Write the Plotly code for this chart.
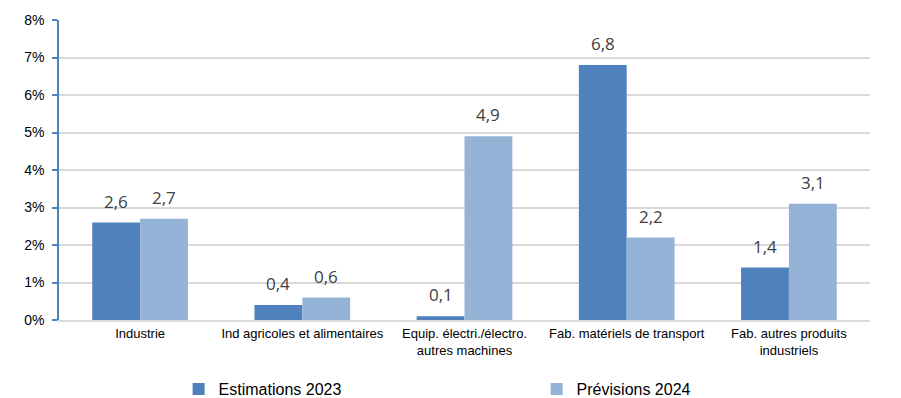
import plotly.graph_objects as go

categories = [
    "Industrie",
    "Ind agricoles et alimentaires",
    "Equip. électri./électro.<br>autres machines",
    "Fab. matériels de transport",
    "Fab. autres produits<br>industriels",
]
estimations_2023 = [2.6, 0.4, 0.1, 6.8, 1.4]
previsions_2024 = [2.7, 0.6, 4.9, 2.2, 3.1]
y_ticks = [0, 1, 2, 3, 4, 5, 6, 7, 8]
y_tick_labels = [f"{t}%" for t in y_ticks]

DARK = "#4f81bd"
LIGHT = "#95b3d7"
BARGAP = 0.41

positions = list(range(len(categories)))

fig = go.Figure()
fig.add_trace(go.Bar(x=positions, y=estimations_2023, name="Estimations 2023",
                     marker=dict(color=DARK, line=dict(width=0))))
fig.add_trace(go.Bar(x=positions, y=previsions_2024, name="Prévisions 2024",
                     marker=dict(color=LIGHT, line=dict(width=0))))

# value labels above each bar, centred on the bar within its group
half = (1 - BARGAP) / 4
annotations = []
for series, shift in ((estimations_2023, -half), (previsions_2024, half)):
    for i, v in enumerate(series):
        annotations.append(dict(
            x=i + shift, y=v, xref="x", yref="y",
            text=f"{v:.1f}".replace(".", ","),
            showarrow=False, yanchor="bottom", yshift=8,
            font=dict(family="Open Sans, Lato, sans-serif", size=17, color="#404040"),
        ))

fig.update_layout(
    width=901, height=398,
    margin=dict(l=59, r=31, t=18, b=78),
    paper_bgcolor="white", plot_bgcolor="white",
    barmode="group", bargap=BARGAP, bargroupgap=0,
    font=dict(family="Liberation Sans, Arial, sans-serif", color="#000000"),
    annotations=annotations,
    showlegend=True,
    legend=dict(
        orientation="h", x=0.1475, xanchor="left",
        yref="container", y=0.0226, yanchor="middle",
        entrywidth=313, font=dict(size=16, color="#000000"),
        itemwidth=30, traceorder="normal",
    ),
    xaxis=dict(
        tickmode="array", tickvals=positions, ticktext=categories,
        range=[-0.5, len(categories) - 0.5],
        showline=True, linecolor="#d9d9d9", linewidth=2,
        ticks="", showgrid=False, tickfont=dict(size=13, color="#000000"),
    ),
    yaxis=dict(
        range=[0, 8], tickmode="array", tickvals=y_ticks, ticktext=y_tick_labels,
        showline=True, linecolor=DARK, linewidth=1.5,
        ticks="outside", ticklen=5, tickcolor=DARK, tickwidth=1.5,
        ticklabelstandoff=5,
        showgrid=True, gridcolor="#d9d9d9", gridwidth=1.5,
        zeroline=False, tickfont=dict(size=14, color="#000000"),
    ),
)

fig.write_html("out.html")
